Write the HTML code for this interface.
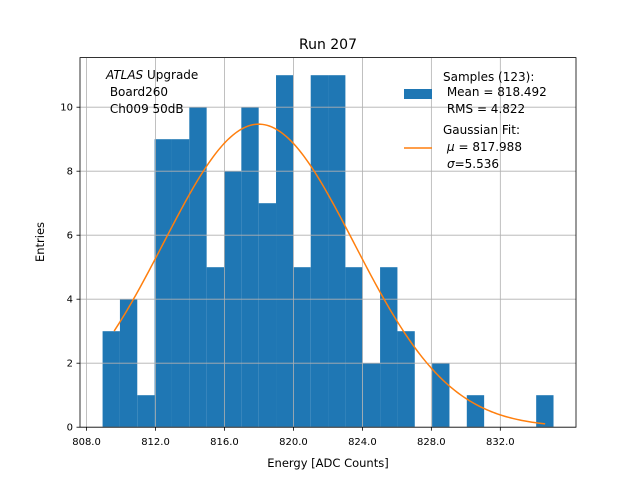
<!DOCTYPE html>
<html><head><meta charset="utf-8"><style>
body{margin:0;background:#fff}
svg text{font-family:"DejaVu Sans","Liberation Sans",sans-serif;fill:#000;white-space:pre}
</style></head><body>
<svg width="640" height="480" id="c">
<rect x="0" y="0" width="640" height="480" fill="#fff"/>
<g id="bars"></g>
<g id="grid"></g>
<path id="fit" fill="none" stroke="#ff7f0e" stroke-width="1.5"/>
<rect x="80" y="57.6" width="496" height="369.6" fill="none" stroke="#000" stroke-width="0.8"/>
<g id="ticks"></g>
<text x="328" y="49" font-size="14" text-anchor="middle">Run 207</text>
<text x="328" y="467" font-size="11.5" text-anchor="middle">Energy [ADC Counts]</text>
<text x="44" y="242" font-size="11.5" text-anchor="middle" transform="rotate(-90 44 242)">Entries</text>
<g font-size="12">
<text x="106" y="79"><tspan font-style="italic">ATLAS</tspan> Upgrade</text>
<text x="106" y="96"> Board260</text>
<text x="106" y="113"> Ch009 50dB</text>
</g>
<g font-size="12">
<rect x="404" y="89" width="28" height="10" fill="#1f77b4"/>
<text x="443" y="81">Samples (123):</text>
<text x="443" y="96"> Mean = 818.492</text>
<text x="443" y="113"> RMS = 4.822</text>
<line x1="404" y1="148" x2="432" y2="148" stroke="#ff7f0e" stroke-width="1.5"/>
<text x="443" y="134">Gaussian Fit:</text>
<text x="447" y="151"><tspan font-style="italic">μ</tspan> = 817.988</text>
<text x="447" y="168"><tspan font-style="italic">σ</tspan>=5.536</text>
</g>
</svg>
<script>
const counts=[3,4,1,9,9,10,5,8,10,7,11,5,11,11,5,2,5,3,0,2,0,1,0,0,0,1];
const binStart=808.93, binWidth=1.006;
const xTicks=[808,812,816,820,824,828,832];
const xTickLabels=["808.0","812.0","816.0","820.0","824.0","828.0","832.0"];
const yTicks=[0,2,4,6,8,10];
const fitMu=817.988, fitSigma=5.536, fitAmp=9.47, fitRange=[809.6,834.6];
const X0=807.62,X1=836.39,Y1=11.55;
const sx=v=>80+(v-X0)/(X1-X0)*496;
const sy=v=>427.2-v/Y1*369.6;
const NS="http://www.w3.org/2000/svg";
function mk(t,a,p){const e=document.createElementNS(NS,t);for(const k in a)e.setAttribute(k,a[k]);p.appendChild(e);return e;}
const grid=document.getElementById('grid'),bars=document.getElementById('bars'),ticks=document.getElementById('ticks');
xTicks.forEach((v,i)=>{
 const g=mk('line',{x1:sx(v),x2:sx(v),y1:57.6,y2:427.2,stroke:'#b0b0b0','stroke-width':0.8},grid);
 
 
 mk('line',{x1:sx(v),x2:sx(v),y1:427.2,y2:430.7,stroke:'#000','stroke-width':0.8},ticks);
 const t=mk('text',{x:sx(v),y:445,'font-size':10,'text-anchor':'middle'},ticks);t.textContent=xTickLabels[i];
 
 
});
yTicks.forEach(v=>{
 const g=mk('line',{x1:80,x2:576,y1:sy(v),y2:sy(v),stroke:'#b0b0b0','stroke-width':0.8},grid);
 
 
 mk('line',{x1:76.5,x2:80,y1:sy(v),y2:sy(v),stroke:'#000','stroke-width':0.8},ticks);
 const t=mk('text',{x:73,y:sy(v)+3.5,'font-size':10,'text-anchor':'end'},ticks);t.textContent=v;
 
 
});
counts.forEach((c,i)=>{
 if(!c)return;
 const a=sx(binStart+i*binWidth),b=sx(binStart+(i+1)*binWidth);
 const r=mk('rect',{x:a,y:sy(c),width:b-a,height:sy(0)-sy(c),fill:'#1f77b4'},bars);
 
 
});
let d='';
for(let i=0;i<=200;i++){const x=fitRange[0]+(fitRange[1]-fitRange[0])*i/200;
 const y=fitAmp*Math.exp(-0.5*((x-fitMu)/fitSigma)**2);
 d+=(i?'L':'M')+sx(x).toFixed(2)+' '+sy(y).toFixed(2);}
document.getElementById('fit').setAttribute('d',d);
</script>
</body></html>
